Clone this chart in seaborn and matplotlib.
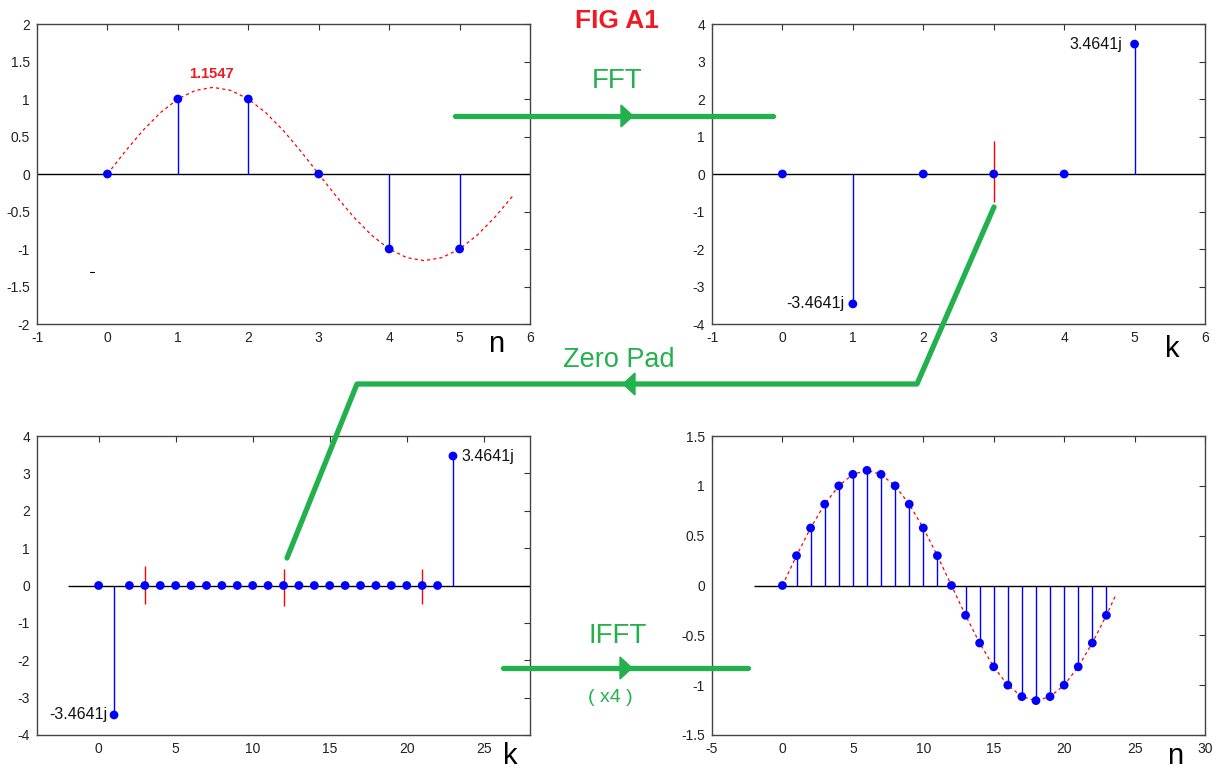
import matplotlib
matplotlib.use("Agg")
import matplotlib.pyplot as plt
import seaborn as sns
import pandas as pd
from matplotlib.patches import Polygon
from matplotlib.ticker import FuncFormatter, MultipleLocator

# ---------------- data ----------------
tl_n = [0, 1, 2, 3, 4, 5]
tl_x = [0, 1, 1, 0, -1, -1]
tl_curve_t = [0, 0.25, 0.5, 0.75, 1.0, 1.25, 1.5, 1.75, 2.0, 2.25, 2.5, 2.75,
              3.0, 3.25, 3.5, 3.75, 4.0, 4.25, 4.5, 4.75, 5.0, 5.25, 5.5, 5.75]
tl_curve_y = [0, 0.299, 0.577, 0.816, 1.0, 1.115, 1.155, 1.115, 1.0, 0.816, 0.577, 0.299,
              0, -0.299, -0.577, -0.816, -1.0, -1.115, -1.155, -1.115, -1.0, -0.816, -0.577, -0.299]
tl_peak_label = "1.1547"

tr_k = [0, 1, 2, 3, 4, 5]
tr_X = [0, -3.4641, 0, 0, 0, 3.4641]
tr_red_k = [3]
tr_red_lo = [-0.75]
tr_red_hi = [0.88]

bl_k = [0, 1, 2, 3, 4, 5, 6, 7, 8, 9, 10, 11, 12, 13, 14, 15, 16, 17, 18, 19, 20, 21, 22, 23]
bl_X = [0, -3.4641, 0, 0, 0, 0, 0, 0, 0, 0, 0, 0, 0, 0, 0, 0, 0, 0, 0, 0, 0, 0, 0, 3.4641]
bl_red_k = [3, 12, 21]
bl_red_lo = [-0.50, -0.55, -0.50]
bl_red_hi = [0.51, 0.45, 0.45]

br_n = [0, 1, 2, 3, 4, 5, 6, 7, 8, 9, 10, 11, 12, 13, 14, 15, 16, 17, 18, 19, 20, 21, 22, 23]
br_y = [0, 0.299, 0.577, 0.816, 1.0, 1.115, 1.155, 1.115, 1.0, 0.816, 0.577, 0.299,
        0, -0.299, -0.577, -0.816, -1.0, -1.115, -1.155, -1.115, -1.0, -0.816, -0.577, -0.299]
br_curve_t = br_n + [23.65]
br_curve_y = br_y + [-0.10]

pos_label = "3.4641j"
neg_label = "-3.4641j"

# ---------------- style ----------------
sns.set_theme(style="white")
plt.rcParams["font.family"] = ["Liberation Sans", "DejaVu Sans"]
plt.rcParams["axes.unicode_minus"] = False

GREEN = "#22B14C"
RED = "#ED1C24"
BLUE = "#0000FF"

W, H = 1221, 771
fig = plt.figure(figsize=(W / 100, H / 100), dpi=100)
fig.patch.set_facecolor("white")


def px_axes(left, top, right, bottom):
    return fig.add_axes([left / W, 1 - bottom / H, (right - left) / W, (bottom - top) / H])


ax_tl = px_axes(37, 24, 530, 324)
ax_tr = px_axes(712, 24, 1205, 324)
ax_bl = px_axes(37, 436, 530, 735)
ax_br = px_axes(712, 436, 1205, 735)

fmt = FuncFormatter(lambda v, p: "%g" % v)


def style_axes(ax, xlim, ylim, xstep, ystep):
    ax.set_xlim(*xlim)
    ax.set_ylim(*ylim)
    ax.xaxis.set_major_locator(MultipleLocator(xstep))
    ax.yaxis.set_major_locator(MultipleLocator(ystep))
    ax.xaxis.set_major_formatter(fmt)
    ax.yaxis.set_major_formatter(fmt)
    ax.tick_params(direction="in", top=True, right=True, length=4, width=0.8,
                   labelsize=10, colors="#333333", labelcolor="#222222", pad=5)
    for s in ax.spines.values():
        s.set_color("#444444")
        s.set_linewidth(1.0)
    ax.set_xlabel("")
    ax.set_ylabel("")


def stems(ax, x, y, base_from, base_to):
    ax.hlines(0, base_from, base_to, color="black", lw=1.0, zorder=2)
    xs = [a for a, b in zip(x, y) if b != 0]
    ys = [b for b in y if b != 0]
    ax.vlines(xs, 0, ys, color=BLUE, lw=1.0, zorder=2)
    sns.scatterplot(x=x, y=y, ax=ax, color=BLUE, s=40, edgecolor="none",
                    marker="o", zorder=4, legend=False)


# --- top left: x[n]
stems(ax_tl, tl_n, tl_x, -1, 6)
sns.lineplot(x=tl_curve_t, y=tl_curve_y, ax=ax_tl, color="red", lw=0.9,
             linestyle=(0, (2.5, 2.5)), estimator=None, sort=False, zorder=3)
ax_tl.text(1.47, 1.33, tl_peak_label, color=RED, fontsize=10.5, fontweight="bold",
           ha="center", va="center")
style_axes(ax_tl, (-1, 6), (-2, 2), 1, 0.5)

# --- top right: X[k]
stems(ax_tr, tr_k, tr_X, -1, 6)
ax_tr.vlines(tr_red_k, tr_red_lo, tr_red_hi, color="red", lw=1.0, zorder=3)
ax_tr.annotate(pos_label, xy=(tr_k[5], tr_X[5]), xytext=(-9, 0), textcoords="offset points",
               ha="right", va="center", fontsize=11.5, color="#111111")
ax_tr.annotate(neg_label, xy=(tr_k[1], tr_X[1]), xytext=(-6, 0), textcoords="offset points",
               ha="right", va="center", fontsize=11.5, color="#111111")
style_axes(ax_tr, (-1, 6), (-4, 4), 1, 1)

# --- bottom left: zero-padded X[k]
stems(ax_bl, bl_k, bl_X, -2, 28)
ax_bl.vlines(bl_red_k, bl_red_lo, bl_red_hi, color="red", lw=1.0, zorder=3)
ax_bl.annotate(pos_label, xy=(bl_k[23], bl_X[23]), xytext=(6, 0), textcoords="offset points",
               ha="left", va="center", fontsize=11.5, color="#111111")
ax_bl.annotate(neg_label, xy=(bl_k[1], bl_X[1]), xytext=(-5, 0), textcoords="offset points",
               ha="right", va="center", fontsize=11.5, color="#111111")
style_axes(ax_bl, (-4, 28), (-4, 4), 5, 1)

# --- bottom right: interpolated x[n]
stems(ax_br, br_n, br_y, -2, 30)
sns.lineplot(x=br_curve_t, y=br_curve_y, ax=ax_br, color="red", lw=0.9,
             linestyle=(0, (2.5, 2.5)), estimator=None, sort=False, zorder=3)
style_axes(ax_br, (-5, 30), (-1.5, 1.5), 5, 0.5)

# ---------------- overlay: title, arrows, labels (pixel coords) ----------------
ov = fig.add_axes([0, 0, 1, 1], zorder=20)
ov.set_xlim(0, W)
ov.set_ylim(H, 0)
ov.set_axis_off()

ov.text(617, 21, "FIG A1", color=RED, fontsize=19, fontweight="bold", ha="center", va="center")
ov.text(617, 81, "FFT", color=GREEN, fontsize=20, ha="center", va="center")
ov.text(619, 360, "Zero Pad", color=GREEN, fontsize=19.5, ha="center", va="center")
ov.text(618, 636, "IFFT", color=GREEN, fontsize=20, ha="center", va="center")
ov.text(610, 698, "( x4 )", color=GREEN, fontsize=14, ha="center", va="center")

LW = 3.8
ov.plot([455, 773], [116, 116], color=GREEN, lw=LW, solid_capstyle="round")
ov.add_patch(Polygon([[633, 116], [621, 105], [621, 127]], closed=True, color=GREEN))

ov.plot([994, 917, 357, 287], [207, 384, 384, 558], color=GREEN, lw=LW,
        solid_capstyle="round", solid_joinstyle="round")
ov.add_patch(Polygon([[623, 384], [635, 373], [635, 395]], closed=True, color=GREEN))

ov.plot([503, 748], [668, 668], color=GREEN, lw=LW, solid_capstyle="round")
ov.add_patch(Polygon([[632, 668], [620, 657], [620, 679]], closed=True, color=GREEN))

# axis letters
for (x, y, s) in [(496, 344, "n"), (1172, 349, "k"), (510, 756, "k"), (1175, 756, "n")]:
    ov.text(x, y, s, color="black", fontsize=21, ha="center", va="center")

# small stray mark in the first panel
ov.plot([90, 94], [272, 272], color="black", lw=0.8)

fig.savefig("out.png", dpi=100, facecolor="white")
